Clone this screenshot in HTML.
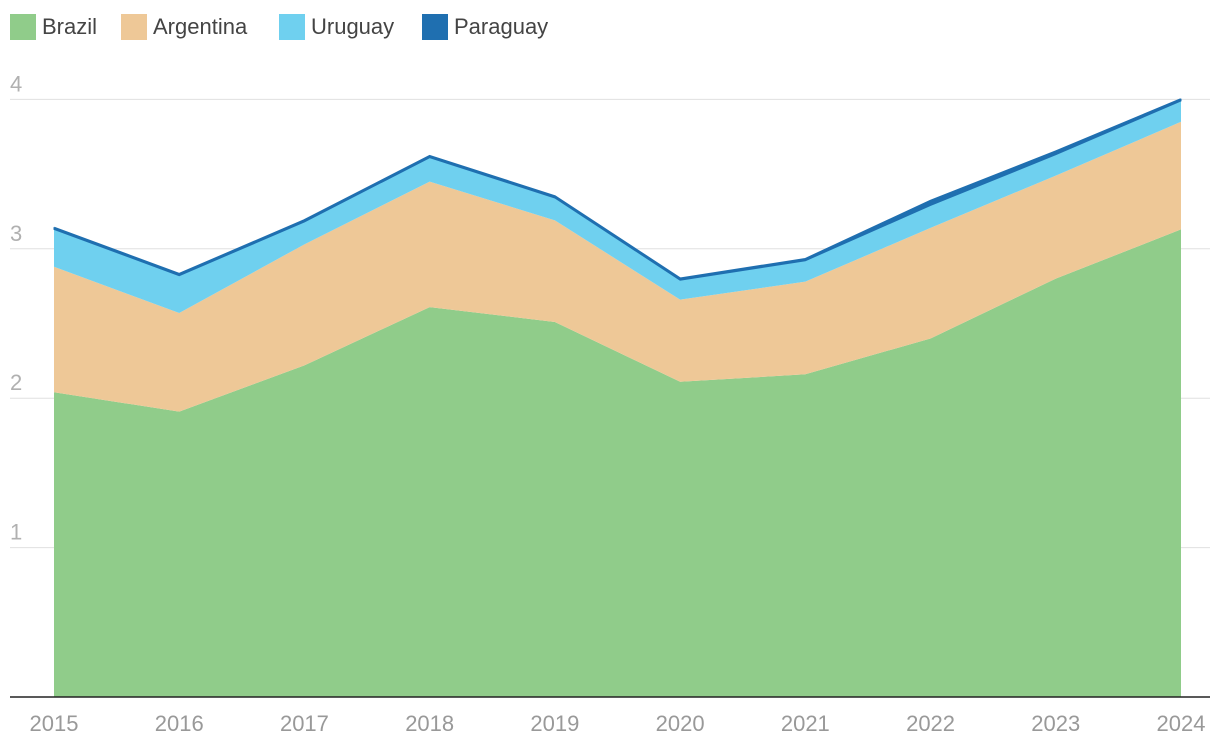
<!DOCTYPE html>
<html><head><meta charset="utf-8"><style>
body{margin:0;background:#fff;font-family:"Liberation Sans",sans-serif;}
#wrap{position:relative;width:1220px;height:750px;overflow:hidden;}
.leg{position:absolute;top:14px;display:flex;align-items:center;font-size:22px;color:#444;}
.sw{width:26px;height:26px;margin-right:6px;}
</style></head><body>
<div id="wrap">
<div class="leg" style="left:10px"><div class="sw" style="background:#90cc8a"></div>Brazil</div>
<div class="leg" style="left:121px"><div class="sw" style="background:#eec897"></div>Argentina</div>
<div class="leg" style="left:279px"><div class="sw" style="background:#6fd0ef"></div>Uruguay</div>
<div class="leg" style="left:422px"><div class="sw" style="background:#1f6fb0"></div>Paraguay</div>
<svg id="svg" width="1220" height="750" style="position:absolute;left:0;top:0"></svg>
</div>
<script>
const years=[2015,2016,2017,2018,2019,2020,2021,2022,2023,2024];
const brazil=[2.04,1.91,2.22,2.61,2.51,2.11,2.16,2.40,2.80,3.13];
const argentina=[0.84,0.66,0.81,0.84,0.68,0.55,0.62,0.74,0.69,0.72];
const uruguay=[0.25,0.25,0.15,0.16,0.15,0.13,0.14,0.15,0.14,0.14];
const paraguay=[0.01,0.01,0.01,0.01,0.01,0.01,0.01,0.03,0.02,0.01];
const yTicks=[1,2,3,4];
const NS="http://www.w3.org/2000/svg";
const svg=document.getElementById('svg');
const x=i=>54+i*(1181-54)/(years.length-1);
const y=v=>697-v*149.4;
function mk(t,a){const e=document.createElementNS(NS,t);for(const k in a)e.setAttribute(k,a[k]);svg.appendChild(e);return e;}
yTicks.forEach(t=>{
  const g=mk('line',{x1:10,x2:1210,y1:y(t),y2:y(t),stroke:'#e0e0e0','stroke-width':1});
  
  
  const l=mk('text',{x:10,y:y(t)-8,fill:'#b0b0b0','font-size':22,'font-family':'Liberation Sans'});
  l.textContent=t;
  
  
});
const series=[['brazil',brazil,'#90cc8a'],['argentina',argentina,'#eec897'],['uruguay',uruguay,'#6fd0ef'],['paraguay',paraguay,'#1f6fb0']];
let base=years.map(()=>0);
let lastTop=null;
series.forEach(([n,vals,c])=>{
  const top=base.map((b,i)=>b+vals[i]);
  let d='M'+years.map((_,i)=>x(i)+','+y(top[i])).join(' L');
  for(let i=years.length-1;i>=0;i--)d+=' L'+x(i)+','+y(base[i]);
  d+='Z';
  const p=mk('path',{d:d,fill:c,stroke:c,'stroke-width':n==='paraguay'?1:0});
  
  
  base=top;lastTop=top;
});
const tl=mk('polyline',{points:years.map((_,i)=>x(i)+','+y(lastTop[i])).join(' '),fill:'none',stroke:'#1f6fb0','stroke-width':2.5});


const ax=mk('line',{x1:10,x2:1210,y1:697,y2:697,stroke:'#222','stroke-width':1.5});


years.forEach((yr,i)=>{
  const t=mk('text',{x:x(i),y:731,fill:'#999','font-size':22,'text-anchor':'middle','font-family':'Liberation Sans'});
  t.textContent=yr;
  
  
});
</script>
</body></html>
